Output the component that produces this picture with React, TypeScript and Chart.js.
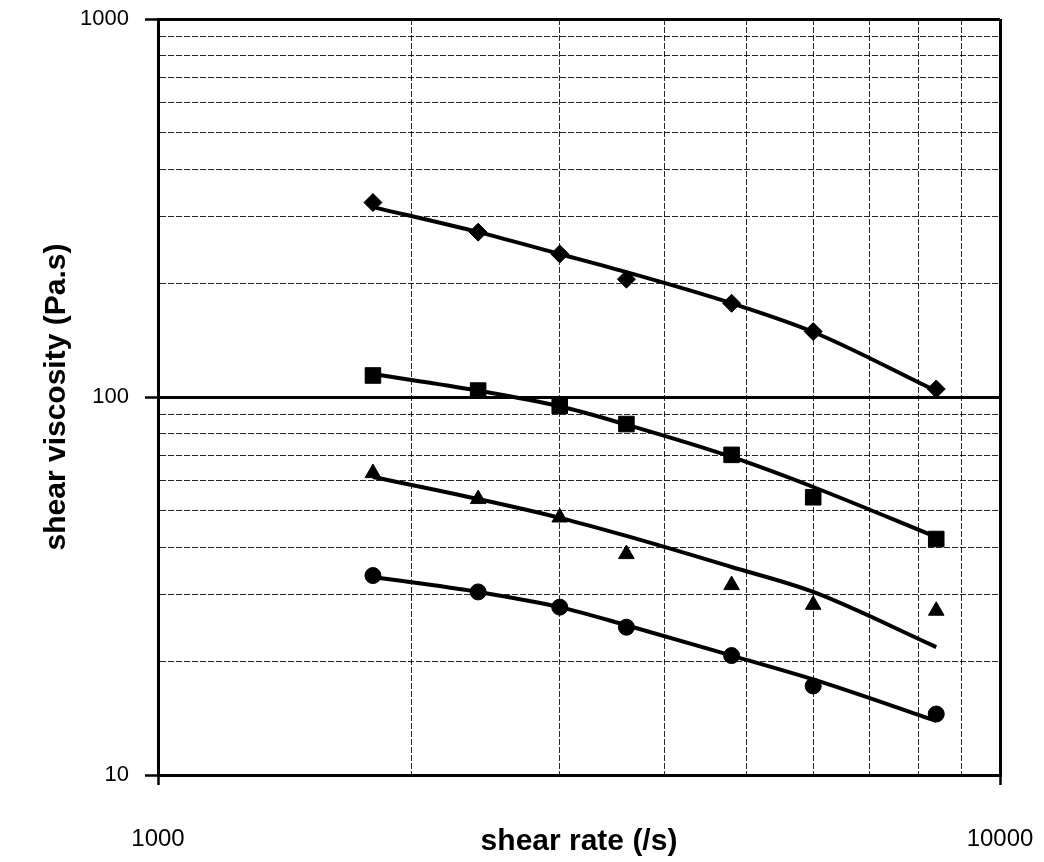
import React, { useEffect, useRef } from 'react';
import { Chart, registerables } from 'chart.js';

Chart.register(...registerables);

// Shear rate (1/s) of the measured points
const shearRate = [1800, 2400, 3000, 3600, 4800, 6000, 8400];

// Measured shear viscosity (Pa.s), one array per series
const viscosityDiamond = [327, 273, 239, 205, 177, 149, 105];
const viscositySquare = [114, 104, 94.7, 84.8, 70.3, 54.3, 42.1];
const viscosityTriangle = [62.9, 53.7, 48.0, 38.4, 31.8, 28.2, 27.2];
const viscosityCircle = [33.7, 30.5, 27.8, 24.6, 20.7, 17.2, 14.5];

// Fitted trend lines (Pa.s) at the same shear rates
const fitDiamond = [318, 273, 239, 214, 177, 148.6, 103.7];
const fitSquare = [115, 104, 94.5, 84.5, 69.4, 57.8, 42.6];
const fitTriangle = [61.4, 53.7, 47.9, 42.9, 35.5, 30.5, 21.8];
const fitCircle = [33.4, 30.5, 27.8, 24.9, 20.7, 17.9, 13.9];

// Grid positions (log decades with their minor steps) and labelled ticks
const xGridValues = [1000, 2000, 3000, 4000, 5000, 6000, 7000, 8000, 9000, 10000];
const yGridValues = [10, 20, 30, 40, 50, 60, 70, 80, 90, 100, 200, 300, 400, 500, 600, 700, 800, 900, 1000];
const xTickLabels = [1000, 10000];
const yTickLabels = [10, 100, 1000];

const FONT = "'Liberation Sans', Arial, Helvetica, sans-serif";

const isDecade = (v: number) => {
  const l = Math.log10(v);
  return Math.abs(l - Math.round(l)) < 1e-9;
};

const toPoints = (xs: number[], ys: number[]) => xs.map((x, i) => ({ x, y: ys[i] }));

export default function App() {
  const ref = useRef<HTMLCanvasElement | null>(null);

  useEffect(() => {
    if (!ref.current) return;
    Chart.defaults.font.family = FONT;
    Chart.defaults.color = '#000';

    const fitLine = (ys: number[]) => ({
      type: 'scatter' as const,
      data: toPoints(shearRate, ys),
      showLine: true,
      borderColor: '#000',
      borderWidth: 4,
      pointRadius: 0,
      cubicInterpolationMode: 'monotone' as const,
      fill: false,
      order: 2,
    });
    const marks = (ys: number[], style: any, radius: number) => ({
      type: 'scatter' as const,
      data: toPoints(shearRate, ys),
      showLine: false,
      pointStyle: style,
      pointRadius: radius,
      pointBackgroundColor: '#000',
      pointBorderColor: '#000',
      pointBorderWidth: 1,
      order: 1,
    });

    const gridColor = (ctx: any) =>
      ctx.tick && isDecade(ctx.tick.value) ? '#000' : 'rgba(0,0,0,0.85)';
    const gridWidth = (ctx: any) => (ctx.tick && isDecade(ctx.tick.value) ? 3 : 1);
    const gridDash = (ctx: any) => (ctx.tick && !isDecade(ctx.tick.value) ? [6, 2] : []);
    const tickColor = (ctx: any) =>
      ctx.tick && isDecade(ctx.tick.value) ? '#000' : 'rgba(0,0,0,0)';
    const tickWidth = (ctx: any) => (ctx.tick && isDecade(ctx.tick.value) ? 2.5 : 0);

    const chart = new Chart(ref.current, {
      type: 'scatter',
      data: {
        datasets: [
          fitLine(fitDiamond),
          fitLine(fitSquare),
          fitLine(fitTriangle),
          fitLine(fitCircle),
          marks(viscosityDiamond, 'rectRot', 9),
          marks(viscositySquare, 'rect', 11),
          marks(viscosityTriangle, 'triangle', 9),
          marks(viscosityCircle, 'circle', 8),
        ] as any,
      },
      options: {
        animation: false,
        responsive: false,
        devicePixelRatio: 1,
        layout: { padding: { left: 0, right: 44, top: 19, bottom: 0 } },
        plugins: {
          legend: { display: false },
          tooltip: { enabled: false },
        },
        scales: {
          x: {
            type: 'logarithmic',
            position: 'bottom',
            min: 1000,
            max: 10000,
            afterBuildTicks: (s: any) => {
              s.ticks = xGridValues.map((v) => ({ value: v }));
            },
            afterFit: (s: any) => {
              s.height = 87;
              s.paddingLeft = 0;
              s.paddingRight = 0;
            },
            ticks: {
              autoSkip: false,
              maxRotation: 0,
              minRotation: 0,
              padding: 40,
              color: '#000',
              font: { size: 24, family: FONT },
              callback: (v: any) => {
                const n = Math.round(Number(v));
                return xTickLabels.includes(n) ? String(n) : '';
              },
            },
            grid: {
              color: gridColor,
              lineWidth: gridWidth,
              drawTicks: true,
              tickLength: 10,
              tickColor: tickColor,
              tickWidth: tickWidth,
            },
            border: { display: true, color: '#000', width: 3, dash: gridDash },
            title: {
              display: true,
              text: 'shear rate (/s)',
              color: '#000',
              font: { size: 30, weight: 'bold', family: FONT },
              padding: { top: 0, bottom: 2 },
            },
          },
          y: {
            type: 'logarithmic',
            position: 'left',
            min: 10,
            max: 1000,
            afterBuildTicks: (s: any) => {
              s.ticks = yGridValues.map((v) => ({ value: v }));
            },
            afterFit: (s: any) => {
              s.width = 158;
              s.paddingTop = 0;
              s.paddingBottom = 0;
            },
            ticks: {
              autoSkip: false,
              padding: 16,
              color: '#000',
              font: { size: 22, family: FONT },
              callback: (v: any) => {
                const n = Math.round(Number(v));
                return yTickLabels.includes(n) ? String(n) : '';
              },
            },
            grid: {
              color: gridColor,
              lineWidth: gridWidth,
              drawTicks: true,
              tickLength: 13,
              tickColor: tickColor,
              tickWidth: tickWidth,
            },
            border: { display: true, color: '#000', width: 3, dash: gridDash },
            title: {
              display: true,
              text: 'shear viscosity (Pa.s)',
              color: '#000',
              font: { size: 30, weight: 'bold', family: FONT },
              padding: { top: 39, bottom: 0 },
            },
          },
        },
      } as any,
    });

    return () => chart.destroy();
  }, []);

  return (
    <div style={{ position: 'fixed', left: 0, top: 0, width: 1044, height: 862, background: '#fff' }}>
      <canvas ref={ref} width={1044} height={862} style={{ display: 'block' }} />
    </div>
  );
}
